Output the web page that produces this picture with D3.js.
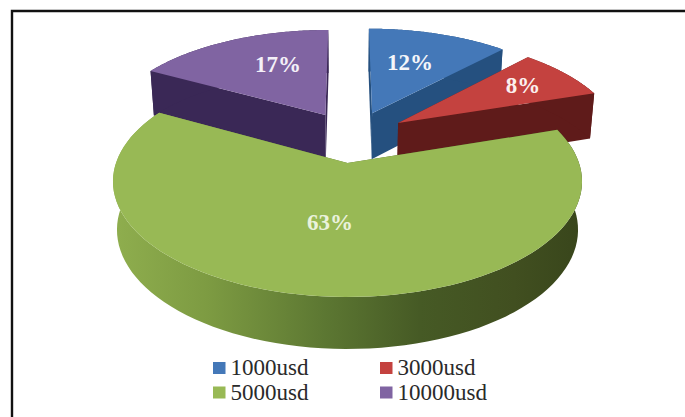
<!DOCTYPE html>
<html>
<head>
<meta charset="utf-8">
<script src="https://cdn.jsdelivr.net/npm/d3@7"></script>
<style>
html, body { margin: 0; padding: 0; background: #fff; }
svg { display: block; }
text { font-family: "Liberation Serif", serif; }
</style>
</head>
<body>
<svg id="chart" width="685" height="417"></svg>
<script>
const categories = ["1000usd", "3000usd", "5000usd", "10000usd"];
const shares = [12, 8, 63, 17];
const topColors = ["#4478b8", "#c4423f", "#98b955", "#8064a2"];
const wallColors = ["#25507f", "#5f1b1a", "#6f8c3c", "#3a2856"];
const labelColors = ["#f4f6fa", "#fbf0ee", "#eaf2dc", "#f4f0f8"];

const svg = d3.select("#chart");
const W = 685, H = 417;

// Chart frame
svg.append("path")
  .attr("d", `M12,${H} V11 H${W}`)
  .attr("fill", "none").attr("stroke", "#111").attr("stroke-width", 2.4);

// Camera: a tilted disk seen in perspective, with radial explosion of every slice
const cam = { cx: 347.5, cy: 163, rx: 231.5, ry: 112.5, persp: 0.16, depth: 47.7, shrink: 0.983 };
const explode = 0.247;

const arcs = d3.pie().value(d => d).sort(null)(shares);
const big = arcs[2];
const bigMid = (big.startAngle + big.endAngle) / 2;
const originU = explode * Math.sin(bigMid);
const originV = explode * Math.cos(bigMid);

function project(u, v, z) {
  const U = u - originU, V = v - originV;
  const w = 1 + cam.persp * V;
  const f = z ? cam.shrink : 1;
  return [cam.cx + f * cam.rx * U / w, cam.cy - cam.ry * V / w + (z ? cam.depth / Math.sqrt(w) : 0)];
}

function slicePoints(a) {
  const mid = (a.startAngle + a.endAngle) / 2;
  const ou = explode * Math.sin(mid), ov = explode * Math.cos(mid);
  const angles = d3.range(0, 1.0001, 1 / 90).map(t => a.startAngle + t * (a.endAngle - a.startAngle));
  return {
    apex: [ou, ov],
    rim: angles.map(t => [ou + Math.sin(t), ov + Math.cos(t)])
  };
}

const line = d3.line();
const layers = svg.append("g");

// Green rim shading runs dark towards the right
const defs = svg.append("defs");
const grad = defs.append("linearGradient").attr("id", "rimShade")
  .attr("gradientUnits", "userSpaceOnUse")
  .attr("x1", 113).attr("x2", 585).attr("y1", 0).attr("y2", 0);
[[0, "#8fae4e"], [0.2, "#7d9b42"], [0.45, "#5c7732"], [0.65, "#465a25"], [0.85, "#414f20"], [1, "#38451b"]]
  .forEach(([o, c]) => grad.append("stop").attr("offset", o).attr("stop-color", c));

const small = [0, 3, 1, 2];
small.forEach(i => {
  const a = arcs[i], s = slicePoints(a);
  const g = layers.append("g").attr("class", "slice");
  const fillWall = i === 2 ? "url(#rimShade)" : wallColors[i];
  const wall = (pts) => {
    const top = pts.map(p => project(p[0], p[1], false));
    const bot = pts.map(p => project(p[0], p[1], true)).reverse();
    g.append("path").attr("d", line(top.concat(bot)) + "Z").attr("fill", fillWall);
  };
  // Radial side faces, then the outer rim, then the lit top
  wall([s.apex, s.rim[0]]);
  wall([s.apex, s.rim[s.rim.length - 1]]);
  wall(s.rim);
  g.append("path")
    .attr("d", line([s.apex].concat(s.rim).map(p => project(p[0], p[1], false))) + "Z")
    .attr("fill", topColors[i]);
});

// Percentage labels
const labelPos = [[410, 70], [523, 93], [330, 230], [278, 72]];
svg.append("g").selectAll("text").data(arcs).join("text")
  .attr("x", (d, i) => labelPos[i][0])
  .attr("y", (d, i) => labelPos[i][1])
  .attr("text-anchor", "middle")
  .attr("font-size", 23).attr("font-weight", 700)
  .attr("fill", (d, i) => labelColors[i])
  .text(d => d.value + "%");

// Legend
const legX = d3.scaleOrdinal().domain([0, 1]).range([213, 380]);
const legY = d3.scaleOrdinal().domain([0, 1]).range([368, 392.5]);
const leg = svg.append("g").selectAll("g").data(categories).join("g")
  .attr("transform", (d, i) => `translate(${legX(i % 2)},${legY(Math.floor(i / 2))})`);
leg.append("rect").attr("x", 0).attr("y", -6).attr("width", 12.5).attr("height", 12)
  .attr("fill", (d, i) => topColors[i]);
leg.append("text").attr("x", 17.5).attr("y", 7.3)
  .attr("font-size", 23).attr("fill", "#2a2a2a").text(d => d);
</script>
</body>
</html>
